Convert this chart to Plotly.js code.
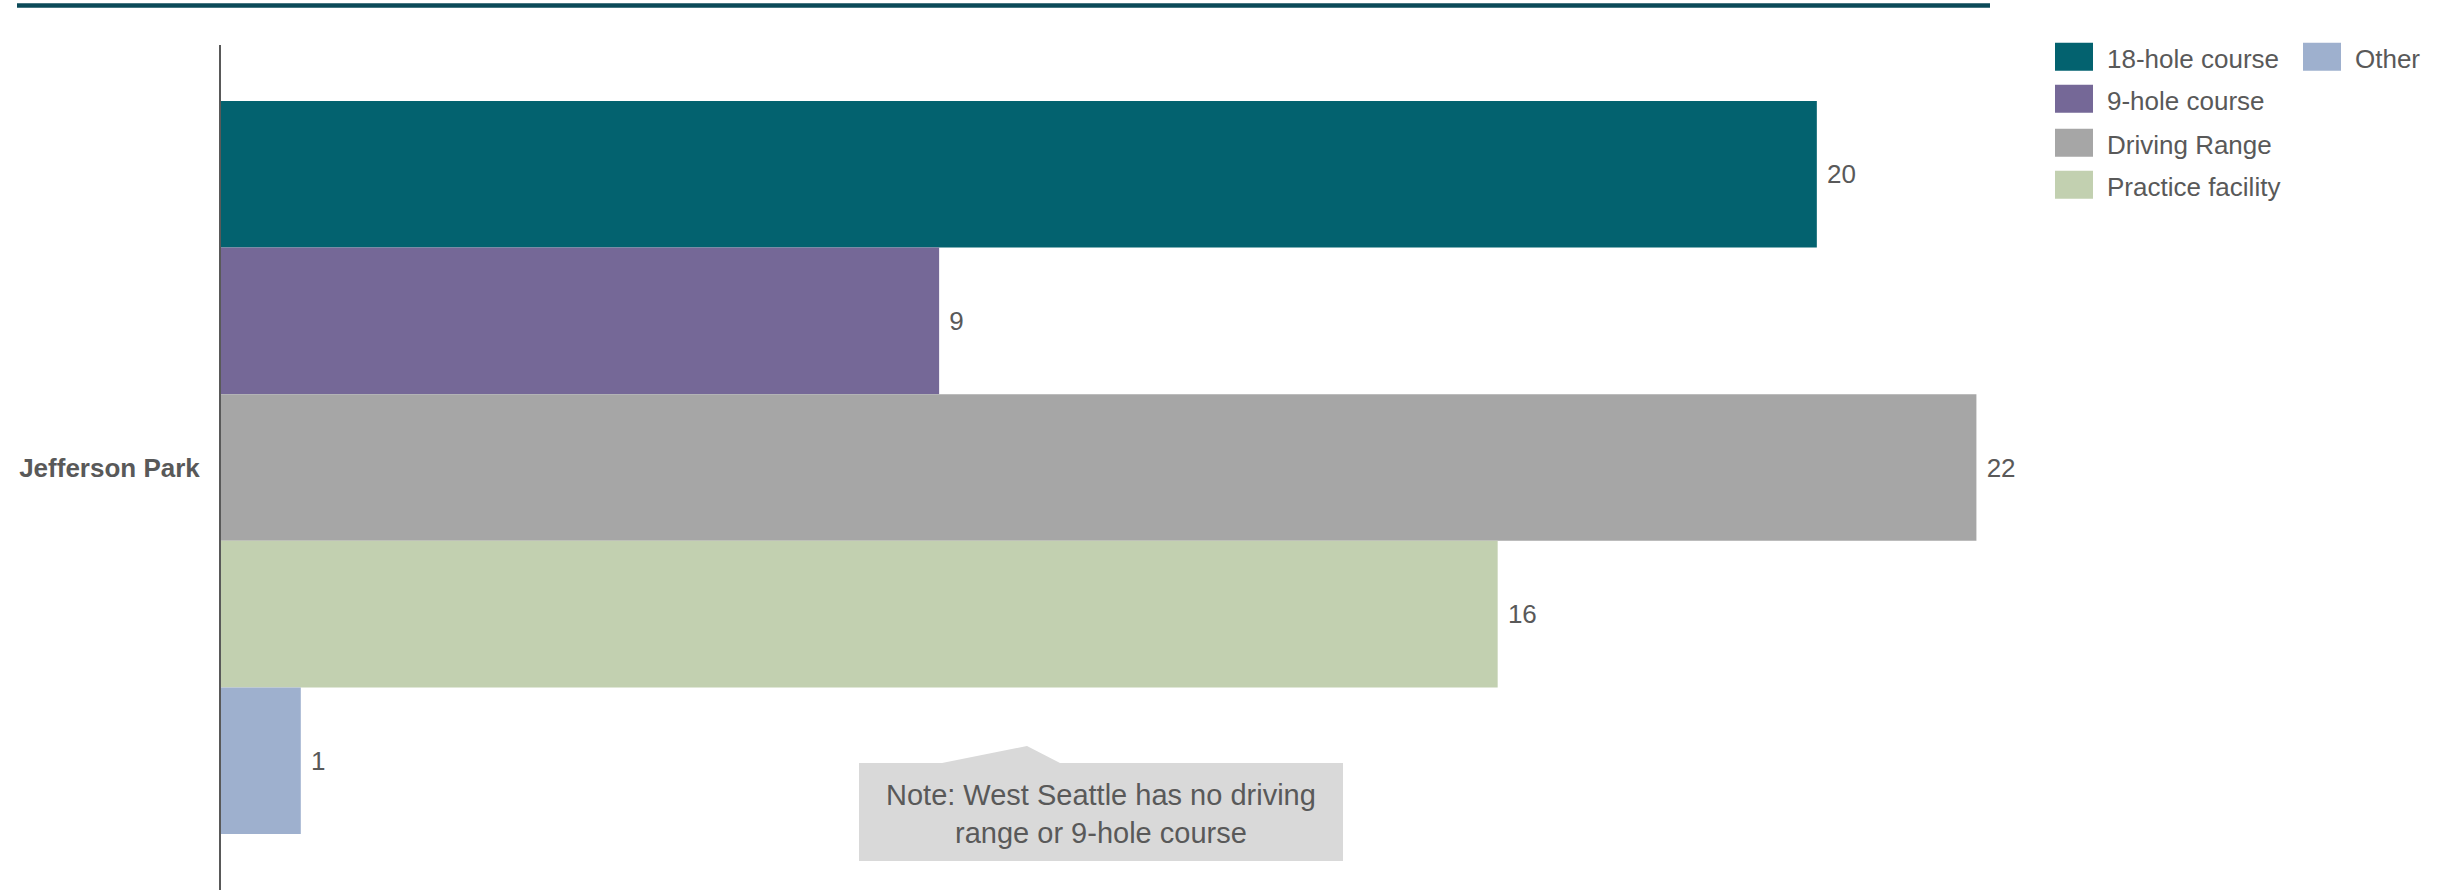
<!DOCTYPE html>
<html>
<head>
<meta charset="utf-8">
<script src="https://cdn.plot.ly/plotly-3.0.1.min.js"></script>
<style>html,body{margin:0;padding:0;background:#fff;}#chart{width:2437px;height:890px;}</style>
</head>
<body>
<div id="chart"></div>
<script>
const categories = ['Jefferson Park'];
const seriesNames = ['18-hole course', '9-hole course', 'Driving Range', 'Practice facility', 'Other'];
const values18Hole = [20];
const values9Hole = [9];
const valuesDrivingRange = [22];
const valuesPractice = [16];
const valuesOther = [1];
const seriesColors = ['#03626f', '#756897', '#a6a6a6', '#c2d0b0', '#9eb0ce'];
const noteText = 'Note: West Seattle has no driving<br>range or 9-hole course';

const W = 2437, H = 890;
const px = x => x / W;
const py = y => 1 - y / H;
const FONT = 'Liberation Sans, Arial, sans-serif';
const TXT = '#595959';

const seriesValues = [values18Hole, values9Hole, valuesDrivingRange, valuesPractice, valuesOther];
const traces = seriesNames.map((name, i) => ({
  type: 'bar',
  orientation: 'h',
  name: name,
  y: categories,
  x: seriesValues[i],
  marker: {color: seriesColors[i], line: {width: 0}},
  text: seriesValues[i].map(v => ' ' + v),
  textposition: 'outside',
  textfont: {family: FONT, size: 26, color: TXT},
  cliponaxis: false,
  hoverinfo: 'x+name',
  showlegend: false
}));

const shapes = [
  {type: 'line', xref: 'paper', yref: 'paper', x0: px(17), x1: px(1990), y0: py(5.5), y1: py(5.5),
   line: {color: '#0b4a59', width: 4.5}},
  {type: 'path', xref: 'paper', yref: 'paper', layer: 'above',
   path: 'M' + px(859) + ',' + py(763) + ' L' + px(942) + ',' + py(763) + ' L' + px(1027) + ',' + py(746) +
         ' L' + px(1060) + ',' + py(763) + ' L' + px(1343) + ',' + py(763) + ' L' + px(1343) + ',' + py(861) +
         ' L' + px(859) + ',' + py(861) + ' Z',
   fillcolor: '#d9d9d9', line: {width: 0}}
];
const annotations = [
  {xref: 'paper', yref: 'paper', x: px(1101), y: py(814), xanchor: 'center', yanchor: 'middle',
   text: noteText, showarrow: false, align: 'center', font: {family: FONT, size: 29, color: TXT}}
];

// manual legend: column 1 has four entries, column 2 has "Other"
const legendPos = [
  {sx: 2055, cy: 56.8}, {sx: 2055, cy: 98.8}, {sx: 2055, cy: 142.8}, {sx: 2055, cy: 184.8}, {sx: 2303, cy: 56.8}
];
seriesNames.forEach((name, i) => {
  const p = legendPos[i];
  shapes.push({type: 'rect', xref: 'paper', yref: 'paper', x0: px(p.sx), x1: px(p.sx + 38),
    y0: py(p.cy - 14), y1: py(p.cy + 14), fillcolor: seriesColors[i], line: {width: 0}});
  annotations.push({xref: 'paper', yref: 'paper', x: px(p.sx + 50), y: py(p.cy + 2), xanchor: 'left', yanchor: 'middle',
    text: name, showarrow: false, font: {family: FONT, size: 26, color: TXT}});
});

const layout = {
  width: W, height: H,
  margin: {l: 0, r: 0, t: 0, b: 0},
  paper_bgcolor: '#ffffff', plot_bgcolor: '#ffffff',
  barmode: 'group', bargap: 0.1324, bargroupgap: 0,
  xaxis: {domain: [px(221), px(2136)], range: [0, 24], visible: false, fixedrange: true},
  yaxis: {domain: [0, 1 - 45 / H], autorange: 'reversed', showline: true, linecolor: '#595959', linewidth: 2,
          showgrid: false, zeroline: false, ticks: '', ticklabelstandoff: 14,
          tickfont: {family: FONT, size: 26, color: TXT, weight: 'bold'}},
  shapes: shapes,
  annotations: annotations,
  font: {family: FONT, color: TXT},
  showlegend: false
};

Plotly.newPlot('chart', traces, layout, {displayModeBar: false, staticPlot: true});
</script>
</body>
</html>
